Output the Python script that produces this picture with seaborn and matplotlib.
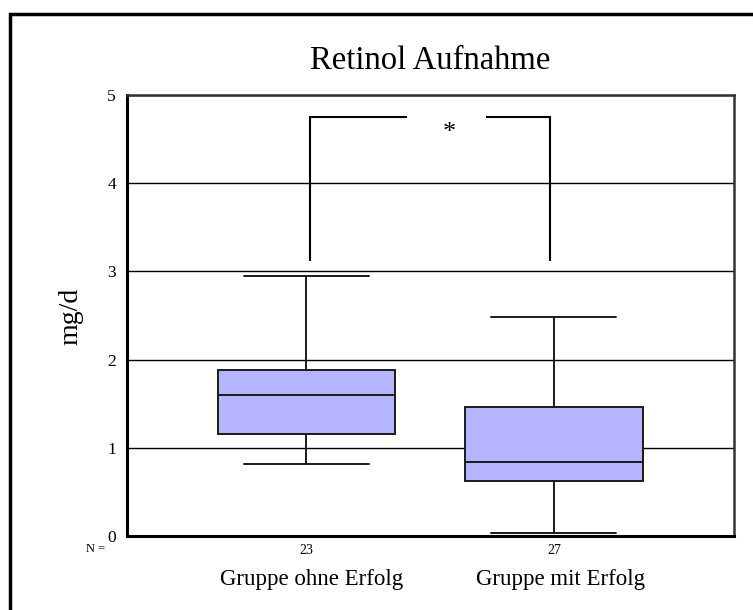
import matplotlib
matplotlib.use("Agg")
import matplotlib.pyplot as plt
import matplotlib.transforms as mtransforms
from matplotlib.patches import Rectangle
import pandas as pd
import seaborn as sns

# Retinol intake (mg/d) per subject
groups = ["Gruppe ohne Erfolg", "Gruppe mit Erfolg"]
ohne_erfolg = [0.82, 0.95, 1.02, 1.08, 1.12, 1.15, 1.17, 1.25, 1.38, 1.45, 1.52,
               1.60, 1.66, 1.72, 1.78, 1.84, 1.87, 1.89, 2.05, 2.22, 2.41, 2.68, 2.95]
mit_erfolg = [0.03, 0.18, 0.30, 0.41, 0.50, 0.56, 0.61, 0.63, 0.68, 0.72, 0.76,
              0.79, 0.82, 0.84, 0.90, 0.98, 1.07, 1.18, 1.31, 1.44, 1.48, 1.62,
              1.79, 1.95, 2.12, 2.30, 2.48]
y_ticks = [0, 1, 2, 3, 4, 5]
title = "Retinol Aufnahme"
y_label = "mg/d"
signif_mark = "*"

df = pd.DataFrame({
    "group": [groups[0]] * len(ohne_erfolg) + [groups[1]] * len(mit_erfolg),
    "value": ohne_erfolg + mit_erfolg,
})
counts = [str(len(ohne_erfolg)), str(len(mit_erfolg))]

sns.set_theme(style="white")
plt.rcParams["font.family"] = ["Liberation Serif", "DejaVu Serif"]
plt.rcParams["text.color"] = "black"
plt.rcParams["axes.labelcolor"] = "black"

W, H = 753, 610
fig = plt.figure(figsize=(W / 100, H / 100), dpi=100)
ax = fig.add_axes([127 / W, 1 - 536 / H, (734 - 127) / W, (536 - 95) / H])

ax.set_axisbelow(True)
ax.yaxis.grid(True, color="black", linewidth=1.0)
ax.xaxis.grid(False)

sns.boxplot(data=df, x="group", y="value", order=groups, ax=ax,
            width=0.714, color="#b4b4ff", saturation=1, linecolor="#1a1a1a",
            linewidth=1.4, whis=1.5, capwidths=0.504)

ax.set_xlim(-0.722, 1.726)
ax.set_ylim(0, 5)
ax.set_yticks(y_ticks)
ax.set_yticklabels([str(t) for t in y_ticks], fontsize=12.5)
ax.set_xticks([0, 1])
ax.set_xticklabels(counts, fontsize=10)
ax.tick_params(axis="y", direction="out", length=5, width=1, pad=3, colors="black")
ax.tick_params(axis="x", direction="out", length=4, width=1, pad=2, colors="black")
ax.set_xlabel("")
ax.set_ylabel(y_label, fontsize=20, color="black")
ax.yaxis.set_label_coords(-0.092, 0.497)
ax.yaxis.label.set_verticalalignment("center")

for side in ["left", "bottom"]:
    ax.spines[side].set_linewidth(2.2)
    ax.spines[side].set_color("black")
for side in ["top", "right"]:
    ax.spines[side].set_linewidth(1.8)
    ax.spines[side].set_color("#333333")
    ax.spines[side].set_visible(True)

# significance bracket between the two groups
ax.plot([0.016, 0.016, 0.407], [3.12, 4.75, 4.75], color="black", lw=1.5,
        solid_capstyle="butt", solid_joinstyle="miter")
ax.plot([0.726, 0.984, 0.984], [4.75, 4.75, 3.12], color="black", lw=1.5,
        solid_capstyle="butt", solid_joinstyle="miter")
ax.text(0.58, 4.57, signif_mark, ha="center", va="center", fontsize=19, color="black")

# sample-size row and group names below the axis
blend = mtransforms.blended_transform_factory(ax.transData, fig.transFigure)
fig.text(96 / W, 1 - 549 / H, "N =", ha="center", va="center", fontsize=9,
         color="black")
ax.text(0.024, 1 - 580 / H, groups[0], transform=blend, ha="center", va="center",
        fontsize=16.5, color="black")
ax.text(1.028, 1 - 580 / H, groups[1], transform=blend, ha="center", va="center",
        fontsize=16.5, color="black")

fig.text(430 / W, 1 - 61 / H, title, ha="center", va="center", fontsize=23.5,
         color="black")

# outer frame
fig.patches.append(Rectangle((10 / W, -0.1), 1.2, 1.1 - 14 / H,
                             transform=fig.transFigure, fill=False,
                             edgecolor="black", linewidth=2.5, clip_on=False))

fig.savefig("out.png", dpi=100, facecolor="white")
